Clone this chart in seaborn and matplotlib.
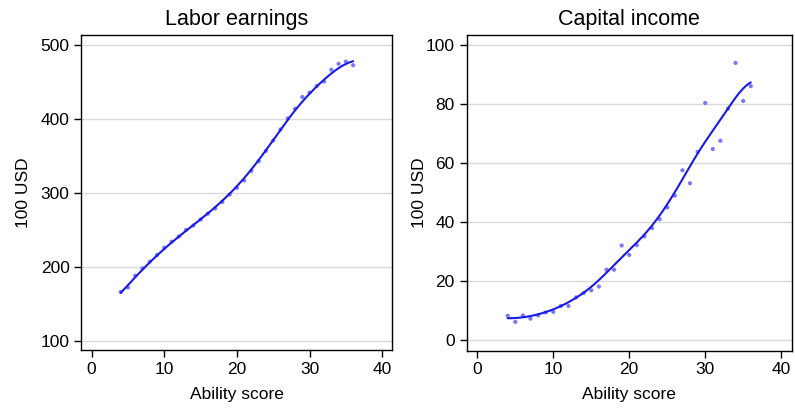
import numpy as np
import pandas as pd
import matplotlib
matplotlib.use("Agg")
import matplotlib.pyplot as plt
import seaborn as sns

# ability score bins
ability = list(range(4, 37))

# mean labor earnings (100 USD) per ability score
labor = [166, 172, 188, 198, 207, 216, 226, 234, 241, 250, 256, 264, 272, 279,
         288, 298, 307, 317, 330, 343, 357, 371, 386, 401, 414, 430, 436, 445,
         451, 467, 475, 478, 473]

# mean capital income (100 USD) per ability score
capital = [8.4, 6.3, 8.5, 7.4, 8.5, 9.5, 9.7, 11.7, 11.7, 14.6, 16.1, 17.0, 18.3,
           24.0, 24.0, 32.2, 29.0, 32.3, 35.3, 38.1, 41.1, 45.1, 49.1, 57.7, 53.3,
           63.9, 80.5, 64.9, 67.7, 78.6, 94.1, 81.2, 86.2]

df = pd.DataFrame({"ability": ability, "labor": labor, "capital": capital})


def local_linear(x, y, bw):
    # gaussian-kernel local linear smoother
    x = np.asarray(x, float)
    y = np.asarray(y, float)
    grid = np.linspace(x.min(), x.max(), 200)
    fit = []
    for g in grid:
        w = np.exp(-0.5 * ((x - g) / bw) ** 2)
        fit.append(np.polyfit(x - g, y, 1, w=np.sqrt(w))[-1])
    return grid, np.array(fit)


sns.set_style("white")
plt.rcParams["font.family"] = ["Liberation Sans", "DejaVu Sans"]
plt.rcParams["text.color"] = "black"
plt.rcParams["axes.labelcolor"] = "black"
plt.rcParams["xtick.color"] = "black"
plt.rcParams["ytick.color"] = "black"

fig = plt.figure(figsize=(7.95, 4.09), dpi=100)
ax1 = fig.add_axes([0.1025, 0.1443, 0.391, 0.770])
ax2 = fig.add_axes([0.587, 0.143, 0.409, 0.771])

panels = [
    (ax1, "labor", "Labor earnings", [100, 200, 300, 400, 500], (87.4, 513.9), 7),
    (ax2, "capital", "Capital income", [0, 20, 40, 60, 80, 100], (-3.4, 103.5), -1),
]

for ax, col, title, yticks, ylim, ypad in panels:
    sns.scatterplot(data=df, x="ability", y=col, ax=ax, color="#7878ff",
                    s=9, edgecolor="none", zorder=3)
    gx, gy = local_linear(df["ability"], df[col], 2.2)
    sns.lineplot(x=gx, y=gy, ax=ax, color="#1a1ae6", linewidth=1.5, zorder=4)
    ax.set_title(title, fontsize=15.5, pad=7)
    ax.set_xlabel("Ability score", fontsize=12.5, labelpad=7)
    ax.set_ylabel("100 USD", fontsize=12.5, labelpad=ypad)
    ax.set_xlim(-1.4, 41.4)
    ax.set_xticks([0, 10, 20, 30, 40])
    ax.set_ylim(*ylim)
    ax.set_yticks(yticks)
    ax.yaxis.grid(True, color="#dadada", linewidth=1)
    ax.tick_params(axis="both", labelsize=12.5, direction="out", length=5,
                   width=1, left=True, bottom=True)
    for sp in ax.spines.values():
        sp.set_color("black")
        sp.set_linewidth(1)

fig.savefig("out.png", dpi=100)
